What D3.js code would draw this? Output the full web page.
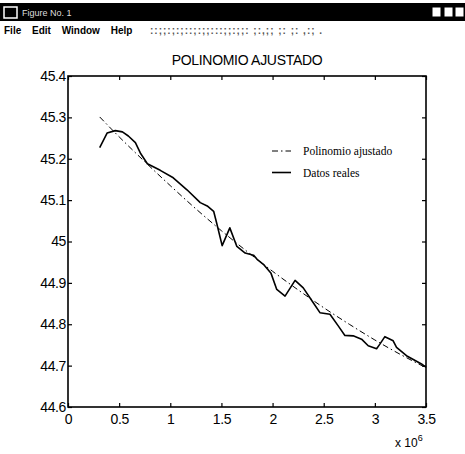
<!DOCTYPE html>
<html><head><meta charset="utf-8">
<script src="https://cdn.jsdelivr.net/npm/d3@7"></script>
<style>body{margin:0;background:#fff}svg{display:block}</style>
</head><body>
<svg id="c" width="465" height="454"></svg>
<script>
// ---- data ----
const chartTitle = "POLINOMIO AJUSTADO";
const seriesNames = ["Polinomio ajustado", "Datos reales"];
const xTicks = [0, 0.5, 1, 1.5, 2, 2.5, 3, 3.5];
const yTicks = [44.6, 44.7, 44.8, 44.9, 45, 45.1, 45.2, 45.3, 45.4];
const xTickLabels = ["0", "0.5", "1", "1.5", "2", "2.5", "3", "3.5"];
const yTickLabels = ["44.6", "44.7", "44.8", "44.9", "45", "45.1", "45.2", "45.3", "45.4"];
// fitted polynomial (x in units of 10^6)
const fitX = [0.31, 0.5, 0.75, 1.0, 1.25, 1.5, 1.75, 2.0, 2.25, 2.5, 2.75, 3.0, 3.25, 3.5];
const fitY = [45.301, 45.253, 45.193, 45.135, 45.079, 45.026, 44.976, 44.928, 44.883, 44.840, 44.800, 44.762, 44.727, 44.695];
// real data
const realX = [0.31, 0.382, 0.463, 0.532, 0.59, 0.659, 0.707, 0.776, 0.902, 1.029, 1.163, 1.293, 1.361, 1.424, 1.452, 1.507, 1.582, 1.651, 1.732, 1.813, 1.849, 1.91, 1.985, 2.041, 2.122, 2.22, 2.3, 2.398, 2.463, 2.561, 2.642, 2.707, 2.788, 2.87, 2.935, 3.017, 3.049, 3.098, 3.179, 3.212, 3.309, 3.456, 3.502];
const realY = [45.227, 45.262, 45.268, 45.265, 45.255, 45.239, 45.214, 45.188, 45.172, 45.154, 45.125, 45.094, 45.086, 45.073, 45.046, 44.990, 45.033, 44.988, 44.972, 44.967, 44.957, 44.945, 44.923, 44.884, 44.868, 44.906, 44.888, 44.852, 44.828, 44.824, 44.796, 44.773, 44.772, 44.764, 44.748, 44.741, 44.752, 44.770, 44.760, 44.744, 44.724, 44.704, 44.696];

// ---- layout ----
const svg = d3.select("#c");
const L = 68, R = 426, T = 76, B = 407;
const x = d3.scaleLinear().domain([0, 3.5]).range([L, R]);
const y = d3.scaleLinear().domain([44.6, 45.4]).range([B, T]);

// window chrome
svg.append("rect").attr("x", 0).attr("y", 3).attr("width", 465).attr("height", 18).attr("fill", "#000");
svg.append("rect").attr("x", 4).attr("y", 7).attr("width", 13).attr("height", 11).attr("fill", "none").attr("stroke", "#fff").attr("stroke-width", 1.5);
svg.append("text").attr("x", 22).attr("y", 16).attr("fill", "#ddd").attr("font-family", "Liberation Sans").attr("font-size", 9).text("Figure No. 1");
[432, 444, 455].forEach(bx => svg.append("rect").attr("x", bx).attr("y", 7).attr("width", 9).attr("height", 10).attr("fill", "#fff").attr("stroke", "#000"));
svg.append("text").attr("x", 4).attr("y", 34).attr("fill", "#000").attr("font-family", "Liberation Sans").attr("font-weight", "bold").attr("font-size", 10)
  .attr("word-spacing", 8).text("File Edit Window Help");
svg.append("text").attr("x", 150).attr("y", 34).attr("fill", "#555").attr("font-family", "Liberation Sans").attr("font-weight", "bold").attr("font-size", 10)
  .attr("letter-spacing", 1).text("::;;:;:;::;:;;:::;;:;;: ;:,;; ;: ;:  ,:;   .");

// title
svg.append("text").attr("x", (L + R) / 2).attr("y", 65).attr("text-anchor", "middle")
  .attr("font-family", "Liberation Sans").attr("font-size", 14).attr("letter-spacing", -0.3).text(chartTitle);

// plot box
svg.append("rect").attr("x", L).attr("y", T).attr("width", R - L).attr("height", B - T)
  .attr("fill", "none").attr("stroke", "#000").attr("stroke-width", 1.6);

// axes with inward ticks
const axB = svg.append("g").attr("transform", `translate(0,${B})`)
  .call(d3.axisBottom(x).tickValues(xTicks).tickSizeInner(-4).tickSizeOuter(0).tickPadding(9).tickFormat((d, i) => xTickLabels[i]));
const axT = svg.append("g").attr("transform", `translate(0,${T})`)
  .call(d3.axisTop(x).tickValues(xTicks).tickSizeInner(-4).tickSizeOuter(0).tickFormat(""));
const axL = svg.append("g").attr("transform", `translate(${L},0)`)
  .call(d3.axisLeft(y).tickValues(yTicks).tickSizeInner(-4).tickSizeOuter(0).tickPadding(2).tickFormat((d, i) => yTickLabels[i]));
const axR = svg.append("g").attr("transform", `translate(${R},0)`)
  .call(d3.axisRight(y).tickValues(yTicks).tickSizeInner(-4).tickSizeOuter(0).tickFormat(""));
[axB, axT, axL, axR].forEach(g => {
  g.select(".domain").remove();
  g.selectAll(".tick line").attr("stroke", "#000").attr("stroke-width", 1.2);
  g.selectAll("text").attr("font-family", "Liberation Sans").attr("font-size", 14).attr("fill", "#000").attr("letter-spacing", -0.4);
});
axB.selectAll("text").attr("dy", "0.6em");

// exponent label
const ex = svg.append("text").attr("x", 395).attr("y", 447).attr("font-family", "Liberation Sans").attr("font-size", 12);
ex.append("tspan").text("x 10");
ex.append("tspan").attr("font-size", 9).attr("dy", -6).text("6");

// lines
const lineGen = d3.line().x(d => x(d[0])).y(d => y(d[1]));
const fitData = fitX.map((v, i) => [v, fitY[i]]);
const realData = realX.map((v, i) => [v, realY[i]]);
svg.append("path").datum(fitData).attr("d", lineGen.curve(d3.curveMonotoneX))
  .attr("fill", "none").attr("stroke", "#000").attr("stroke-width", 1).attr("stroke-dasharray", "6,3,1.5,3");
svg.append("path").datum(realData).attr("d", d3.line().x(d => x(d[0])).y(d => y(d[1])))
  .attr("fill", "none").attr("stroke", "#000").attr("stroke-width", 1.6).attr("stroke-linejoin", "round");

// legend
const lg = svg.append("g");
const legY = [151, 172.5];
lg.append("line").attr("x1", 272).attr("x2", 291).attr("y1", legY[0]).attr("y2", legY[0])
  .attr("stroke", "#000").attr("stroke-width", 1).attr("stroke-dasharray", "6,3,1.5,3");
lg.append("line").attr("x1", 272).attr("x2", 291).attr("y1", legY[1]).attr("y2", legY[1])
  .attr("stroke", "#000").attr("stroke-width", 1.6);
seriesNames.forEach((s, i) => lg.append("text").attr("x", 303).attr("y", legY[i] + 4)
  .attr("font-family", "Liberation Serif").attr("font-size", 11.5).text(s));
</script>
</body></html>
